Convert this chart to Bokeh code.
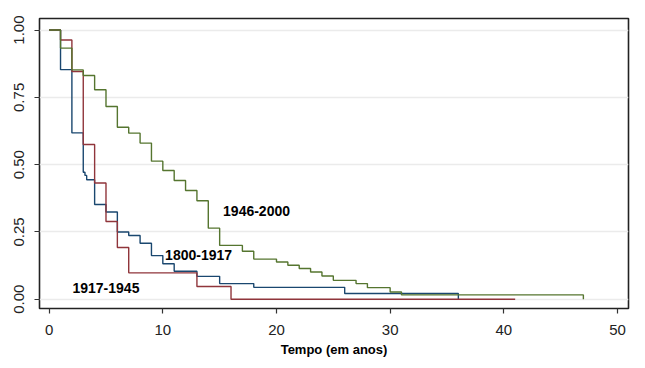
from bokeh.plotting import figure
from bokeh.models import Range1d, FixedTicker, Label
from bokeh.embed import file_html
from bokeh.resources import INLINE

# Kaplan-Meier step curves (time in years, survival)
t_1800 = [0, 1, 2, 3, 3.15, 3.3, 4, 5, 6, 7, 8, 9, 10, 11, 13, 15, 18, 26, 36]
s_1800 = [1.0, 0.853, 0.618, 0.472, 0.46, 0.444, 0.352, 0.324, 0.250, 0.237, 0.208,
          0.162, 0.132, 0.104, 0.085, 0.058, 0.044, 0.021, 0.0]

t_1917 = [0, 1, 2, 3, 4, 5, 6, 7, 13, 16, 41]
s_1917 = [1.0, 0.963, 0.846, 0.575, 0.432, 0.289, 0.192, 0.098, 0.047, 0.0, 0.0]

t_1946 = [0, 1, 2, 3, 4, 5, 6, 7, 8, 9, 10, 11, 12, 13, 14, 15, 17, 18, 20, 21, 22,
          23, 24, 25, 27, 28, 30, 31, 47]
s_1946 = [1.0, 0.933, 0.852, 0.831, 0.778, 0.716, 0.639, 0.617, 0.580, 0.513, 0.478,
          0.441, 0.404, 0.366, 0.264, 0.200, 0.178, 0.149, 0.138, 0.126, 0.114, 0.101,
          0.086, 0.070, 0.058, 0.043, 0.027, 0.016, 0.0]

series_names = ["1800-1917", "1917-1945", "1946-2000"]
series_colors = ["#1a476f", "#90353b", "#55752f"]
label_x = [10.2, 2.05, 15.3]
label_y = [0.163, 0.040, 0.326]

x_ticks = [0, 10, 20, 30, 40, 50]
y_ticks = [0, 0.25, 0.5, 0.75, 1.0]
y_tick_labels = ["0.00", "0.25", "0.50", "0.75", "1.00"]
x_title = "Tempo (em anos)"

p = figure(width=637, height=360, output_backend="svg", toolbar_location=None,
           x_range=Range1d(-0.85, 50.97), y_range=Range1d(-0.0345, 1.043),
           min_border_left=39, min_border_right=9, min_border_top=18,
           min_border_bottom=52, background_fill_color="white",
           border_fill_color="white")

p.outline_line_color = "#222222"
p.outline_line_width = 1.6

for ts, ss, c in zip([t_1800, t_1917, t_1946], [s_1800, s_1917, s_1946], series_colors):
    p.step(ts, ss, mode="after", line_color=c, line_width=1.4)

for name, lx, ly in zip(series_names, label_x, label_y):
    p.add_layout(Label(x=lx, y=ly, text=name, text_font="Liberation Sans",
                       text_font_style="bold", text_font_size="14px",
                       text_color="black", text_baseline="middle",
                       text_align="left"))

p.xgrid.grid_line_color = None
p.ygrid.grid_line_color = "#ebebeb"
p.ygrid.grid_line_width = 1.5
p.ygrid.ticker = FixedTicker(ticks=y_ticks)

p.xaxis.ticker = FixedTicker(ticks=x_ticks)
p.yaxis.ticker = FixedTicker(ticks=y_ticks)
p.yaxis.major_label_overrides = {v: l for v, l in zip(y_ticks, y_tick_labels)}
p.yaxis.major_label_orientation = "vertical"

for ax in [p.xaxis[0], p.yaxis[0]]:
    ax.axis_line_color = None
    ax.minor_tick_line_color = None
    ax.major_tick_in = 0
    ax.major_tick_out = 5
    ax.major_tick_line_color = "#333333"
    ax.major_tick_line_width = 1.2
    ax.major_label_text_font = "Liberation Sans"
    ax.major_label_text_font_size = "15px"
    ax.major_label_text_color = "#222222"

p.xaxis.major_label_standoff = 11
p.yaxis.major_label_standoff = 10
p.xaxis.axis_label = x_title
p.xaxis.axis_label_text_font = "Liberation Sans"
p.xaxis.axis_label_text_font_style = "bold"
p.xaxis.axis_label_text_font_size = "13px"
p.xaxis.axis_label_text_color = "black"
p.xaxis.axis_label_standoff = 4

open("out.html", "w").write(file_html(p, INLINE))
